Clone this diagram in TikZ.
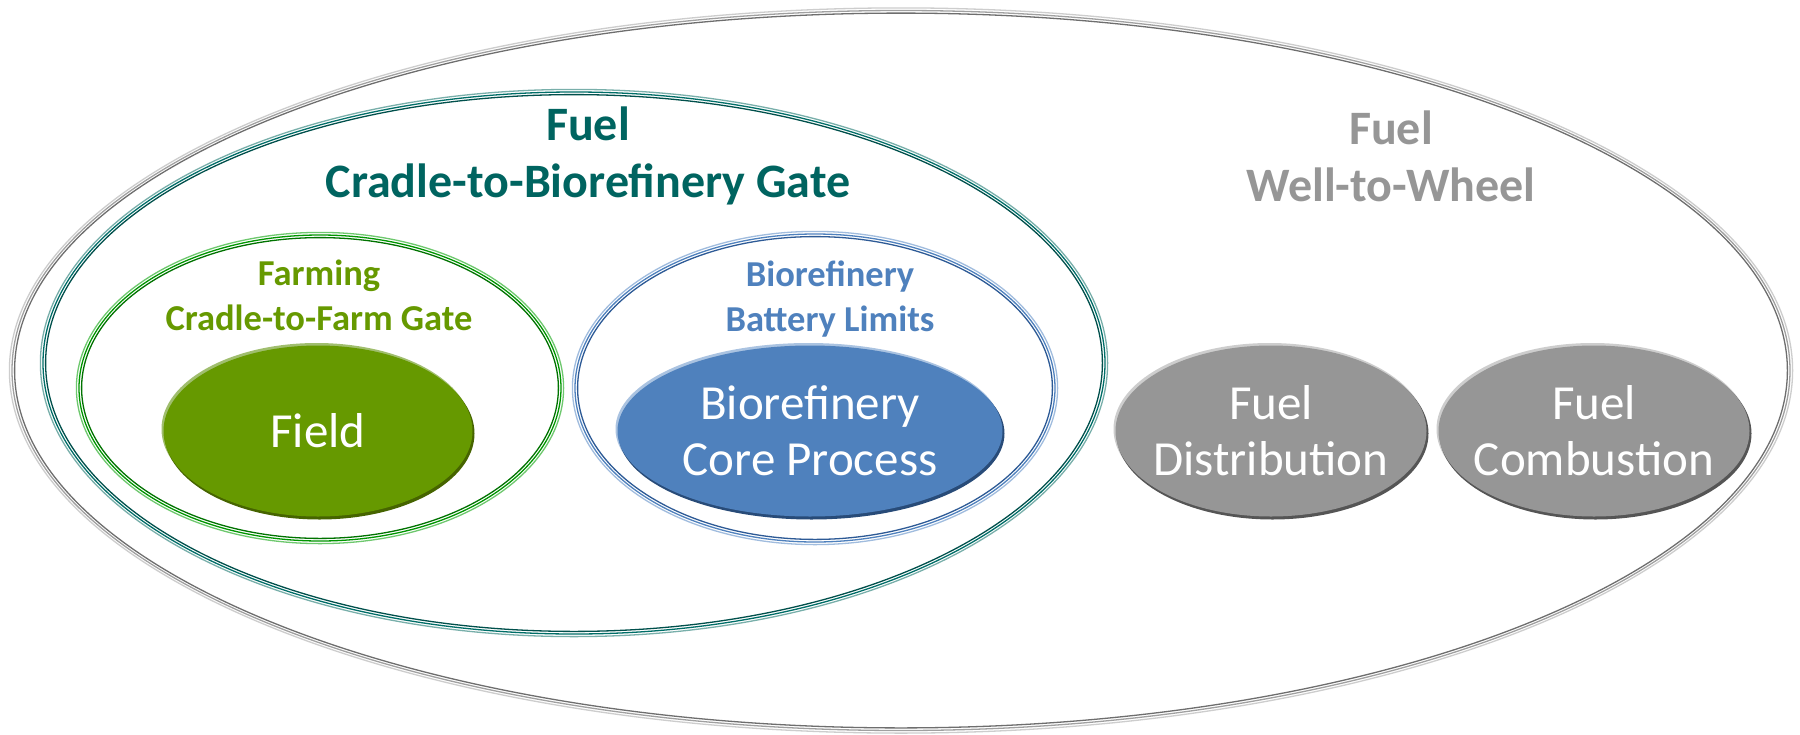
\documentclass[tikz,border=0pt]{standalone}
\usepackage{fontspec}
\setmainfont{Carlito}
\definecolor{tealtext}{RGB}{0,100,96}
\definecolor{tealA}{RGB}{120,175,170}
\definecolor{tealB}{RGB}{0,110,104}
\definecolor{tealC}{RGB}{0,80,76}
\definecolor{greentext}{RGB}{102,153,0}
\definecolor{greenA}{RGB}{110,200,110}
\definecolor{greenB}{RGB}{0,150,0}
\definecolor{greenC}{RGB}{0,115,0}
\definecolor{bluetext}{RGB}{79,129,189}
\definecolor{blueA}{RGB}{160,188,222}
\definecolor{blueB}{RGB}{79,129,189}
\definecolor{blueC}{RGB}{45,90,150}
\definecolor{graytext}{RGB}{150,150,150}
\definecolor{grayA}{RGB}{205,205,205}
\definecolor{grayB}{RGB}{160,160,160}
\definecolor{grayC}{RGB}{110,110,110}
\definecolor{fieldfill}{RGB}{102,153,0}
\definecolor{fieldlight}{RGB}{160,190,110}
\definecolor{fielddark}{RGB}{70,100,0}
\definecolor{corefill}{RGB}{79,129,189}
\definecolor{corelight}{RGB}{170,195,225}
\definecolor{coredark}{RGB}{40,75,120}
\definecolor{fuelfill}{RGB}{150,150,150}
\definecolor{fuellight}{RGB}{205,205,205}
\definecolor{fueldark}{RGB}{85,85,85}
% triple ring: cx, cy, rx, ry, outer colour, middle colour, inner colour
\newcommand\ringthree[7]{%
  \draw[#5,ringline] (#1,#2) ellipse [x radius={(#3+2.6)*1pt}, y radius={(#4+2.6)*1pt}];
  \draw[#6,ringline] (#1,#2) ellipse [x radius={(#3)*1pt}, y radius={(#4)*1pt}];
  \draw[#7,ringline] (#1,#2) ellipse [x radius={(#3-2.6)*1pt}, y radius={(#4-2.6)*1pt}];
}
% bevelled filled ellipse: cx, cy, rx, ry, light, dark, fill
\newcommand\bevelfill[7]{%
  \fill[#5] ({#1-1.5},{#2-2}) ellipse [x radius={(#3)*1pt}, y radius={(#4)*1pt}];
  \fill[#6] ({#1+1.5},{#2+2.5}) ellipse [x radius={(#3)*1pt}, y radius={(#4)*1pt}];
  \fill[#7] (#1,#2) ellipse [x radius={(#3-0.5)*1pt}, y radius={(#4-0.5)*1pt}];
}
\begin{document}
\begin{tikzpicture}[x=1pt,y=-1pt,
  ringline/.style={line width=1.3pt},
  bigtitle/.style={font=\fontsize{48}{57}\selectfont\bfseries, align=center, inner sep=0pt},
  subtitle/.style={font=\fontsize{36.5}{45}\selectfont\bfseries, align=center, inner sep=0pt},
  inlabel/.style={font=\fontsize{49}{56}\selectfont, text=white, align=center, inner sep=0pt}]
\useasboundingbox (0,0) rectangle (1800,734);
\fill[white] (0,0) rectangle (1800,734);

% boundary rings
\ringthree{901}{370.5}{889}{360}{grayA}{grayB}{grayC}
\ringthree{574}{363}{531}{271}{tealA}{tealB}{tealC}
\ringthree{320}{388}{241}{153}{greenA}{greenB}{greenC}
\ringthree{815}{388}{240}{154}{blueA}{blueB}{blueC}

% filled process ellipses
\bevelfill{318}{431}{155}{86}{fieldlight}{fielddark}{fieldfill}
\bevelfill{810}{431}{193}{86}{corelight}{coredark}{corefill}
\bevelfill{1271}{431}{156}{86}{fuellight}{fueldark}{fuelfill}
\bevelfill{1594}{431}{156}{86}{fuellight}{fueldark}{fuelfill}

% titles
\node[bigtitle, text=tealtext] (gate) at (588,156) {Fuel\\Cradle-to-Biorefinery Gate};
\node[bigtitle, text=graytext] (wtw) at (1391,156) {Fuel\\Well-to-Wheel};
\node[subtitle, text=greentext] (farm) at (319,295) {Farming\\Cradle-to-Farm Gate};
\node[subtitle, text=bluetext] (bl) at (830,299) {Biorefinery\\Battery Limits};

% process labels
\node[inlabel, anchor=base] (field) at (318,447) {Field};
\node[inlabel] (core) at (810,431) {Biorefinery\\Core Process};
\node[inlabel] (dist) at (1271,431) {Fuel\\Distribution};
\node[inlabel] (comb) at (1594,431) {Fuel\\Combustion};
\end{tikzpicture}
\end{document}
